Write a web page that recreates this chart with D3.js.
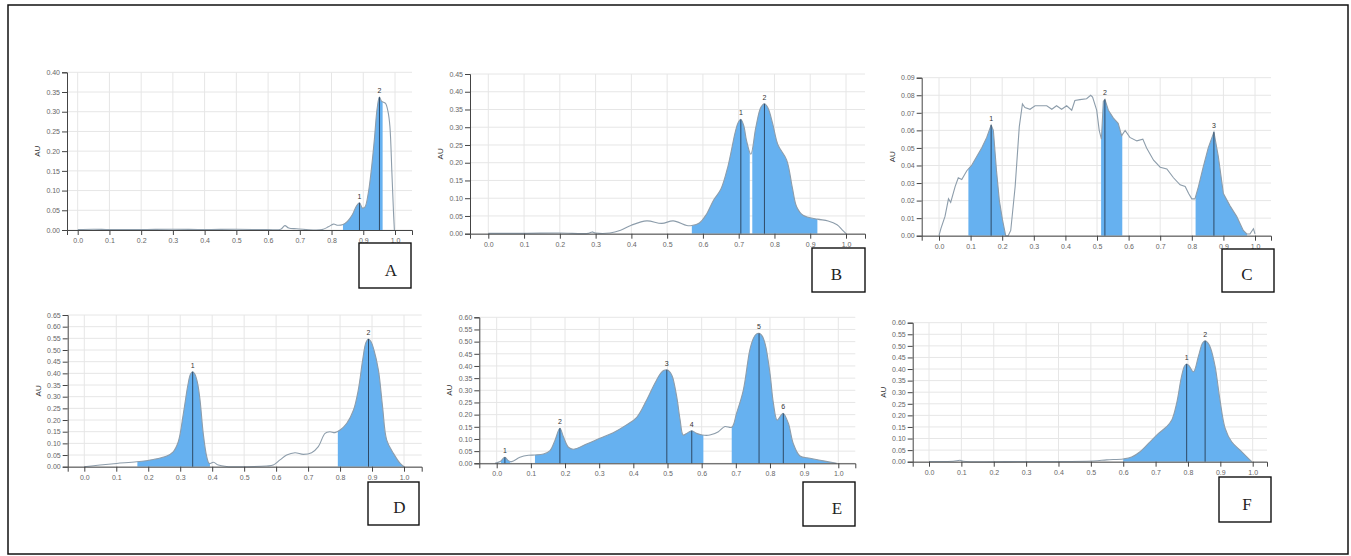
<!DOCTYPE html>
<html>
<head>
<meta charset="utf-8">
<script src="https://cdn.jsdelivr.net/npm/d3@7"></script>
<style>
body { margin: 0; background: #fff; }
svg text { font-family: "Liberation Sans", Arial, sans-serif; }
</style>
</head>
<body>
<div id="canvas"></div>
<script>
var width = 1351,
	height = 556;

// densitometry profiles, [position, AU]
var profileA = [[0,0.001],[0.05,0.002],[0.1,0.001],[0.2,0.001],[0.3,0.002],[0.4,0.001],[0.5,0.002],[0.6,0.001],[0.64,0.002],[0.653,0.011],[0.665,0.005],[0.69,0.003],[0.72,0.001],[0.77,0.001],[0.79,0.008],[0.806,0.015],[0.82,0.012],[0.836,0.014],[0.85,0.022],[0.865,0.038],[0.878,0.06],[0.888,0.069],[0.897,0.056],[0.905,0.058],[0.915,0.09],[0.925,0.15],[0.935,0.23],[0.944,0.31],[0.951,0.337],[0.958,0.326],[0.97,0.321],[0.978,0.3],[0.984,0.262],[0.99,0.15],[0.995,0.05],[0.998,0]];
var profileB = [[0,0.001],[0.1,0.001],[0.2,0.002],[0.28,0.001],[0.29,0.005],[0.3,0.002],[0.34,0.002],[0.37,0.01],[0.4,0.024],[0.443,0.036],[0.485,0.029],[0.517,0.036],[0.555,0.023],[0.569,0.023],[0.59,0.03],[0.61,0.055],[0.63,0.095],[0.65,0.125],[0.67,0.19],[0.69,0.285],[0.698,0.312],[0.706,0.322],[0.714,0.305],[0.722,0.262],[0.734,0.224],[0.748,0.3],[0.762,0.356],[0.772,0.366],[0.782,0.354],[0.795,0.31],[0.81,0.25],[0.834,0.208],[0.85,0.13],[0.862,0.076],[0.88,0.052],[0.92,0.041],[0.95,0.036],[0.975,0.025],[0.99,0.01],[1.0,0]];
var profileC = [[0,0],[0.006,0.004],[0.019,0.011],[0.03,0.021],[0.037,0.019],[0.051,0.028],[0.061,0.033],[0.072,0.032],[0.088,0.037],[0.103,0.04],[0.119,0.045],[0.135,0.05],[0.151,0.056],[0.165,0.063],[0.172,0.06],[0.182,0.037],[0.191,0.02],[0.201,0.009],[0.211,0],[0.219,0],[0.227,0.003],[0.241,0.028],[0.254,0.062],[0.264,0.075],[0.272,0.073],[0.288,0.072],[0.304,0.074],[0.341,0.074],[0.357,0.072],[0.372,0.074],[0.388,0.072],[0.404,0.074],[0.42,0.0715],[0.43,0.077],[0.446,0.0775],[0.467,0.078],[0.48,0.08],[0.486,0.079],[0.499,0.0715],[0.507,0.06],[0.514,0.055],[0.52,0.0765],[0.525,0.0776],[0.536,0.0715],[0.552,0.067],[0.567,0.064],[0.578,0.057],[0.589,0.06],[0.604,0.056],[0.626,0.054],[0.645,0.055],[0.657,0.05],[0.679,0.043],[0.7,0.039],[0.721,0.038],[0.742,0.033],[0.763,0.029],[0.779,0.028],[0.79,0.024],[0.8,0.021],[0.81,0.021],[0.821,0.028],[0.836,0.039],[0.852,0.05],[0.87,0.059],[0.884,0.045],[0.9,0.024],[0.921,0.017],[0.942,0.011],[0.963,0.003],[0.974,0.001],[0.984,0.001],[0.995,0.004],[1.0,0.001]];
var profileD = [[0,0],[0.049,0.007],[0.101,0.014],[0.164,0.021],[0.216,0.031],[0.258,0.046],[0.278,0.064],[0.294,0.107],[0.31,0.229],[0.324,0.35],[0.332,0.396],[0.339,0.407],[0.346,0.396],[0.354,0.36],[0.362,0.286],[0.372,0.143],[0.383,0.043],[0.391,0.014],[0.404,0.019],[0.419,0.007],[0.445,0.001],[0.57,0.003],[0.591,0.007],[0.612,0.029],[0.633,0.05],[0.659,0.06],[0.685,0.053],[0.711,0.06],[0.732,0.086],[0.753,0.143],[0.768,0.15],[0.784,0.146],[0.8,0.157],[0.821,0.186],[0.842,0.243],[0.857,0.329],[0.871,0.46],[0.881,0.532],[0.889,0.547],[0.897,0.535],[0.906,0.5],[0.92,0.414],[0.933,0.257],[0.946,0.114],[0.967,0.057],[0.988,0.014],[1.0,0]];
var profileE = [[-0.005,0],[0.01,0.007],[0.024,0.025],[0.034,0.011],[0.044,0.007],[0.068,0.025],[0.093,0.033],[0.112,0.034],[0.137,0.038],[0.156,0.052],[0.171,0.096],[0.185,0.144],[0.195,0.11],[0.21,0.066],[0.224,0.058],[0.263,0.079],[0.302,0.103],[0.341,0.126],[0.38,0.158],[0.41,0.189],[0.439,0.26],[0.463,0.329],[0.481,0.372],[0.49,0.382],[0.498,0.384],[0.506,0.377],[0.514,0.358],[0.527,0.274],[0.537,0.178],[0.546,0.116],[0.556,0.123],[0.571,0.134],[0.585,0.123],[0.602,0.116],[0.624,0.116],[0.649,0.13],[0.668,0.151],[0.688,0.148],[0.702,0.205],[0.722,0.301],[0.741,0.466],[0.752,0.515],[0.76,0.531],[0.768,0.534],[0.776,0.526],[0.786,0.49],[0.8,0.37],[0.81,0.247],[0.821,0.178],[0.834,0.2],[0.839,0.205],[0.854,0.164],[0.868,0.082],[0.888,0.03],[0.917,0.021],[0.956,0.01],[0.995,0]];
var profileF = [[0,0.001],[0.075,0.002],[0.096,0.006],[0.106,0.002],[0.302,0.001],[0.508,0.003],[0.549,0.008],[0.6,0.012],[0.626,0.02],[0.652,0.043],[0.683,0.086],[0.709,0.122],[0.734,0.151],[0.75,0.18],[0.765,0.252],[0.78,0.367],[0.789,0.412],[0.796,0.422],[0.804,0.413],[0.817,0.388],[0.832,0.453],[0.845,0.512],[0.853,0.522],[0.861,0.514],[0.87,0.49],[0.884,0.41],[0.899,0.266],[0.915,0.144],[0.935,0.086],[0.961,0.05],[0.981,0.022],[0.997,0]];

// integrated bands [from, to]
var regionsA = [[0.836,0.961]];
var regionsB = [[0.569,0.731],[0.738,0.92]];
var regionsC = [[0.093,0.211],[0.513,0.58],[0.812,0.975]];
var regionsD = [[0.166,0.393],[0.793,1.0]];
var regionsE = [[0.012,0.04],[0.112,0.605],[0.688,1.0]];
var regionsF = [[0.6,1.0]];

// peak markers [position, AU]
var peaksA = [[0.888,0.069],[0.951,0.337]];
var peaksB = [[0.706,0.322],[0.772,0.366]];
var peaksC = [[0.165,0.063],[0.525,0.0776],[0.87,0.059]];
var peaksD = [[0.339,0.407],[0.889,0.547]];
var peaksE = [[0.024,0.025],[0.185,0.144],[0.498,0.384],[0.571,0.134],[0.768,0.534],[0.839,0.205]];
var peaksF = [[0.796,0.422],[0.853,0.522]];

var panelNames = ["A","B","C","D","E","F"];
var yMaxes = [0.40,0.45,0.09,0.65,0.60,0.60];
var ySteps = [0.05,0.05,0.01,0.05,0.05,0.05];
var xTickValues = [0.0,0.1,0.2,0.3,0.4,0.5,0.6,0.7,0.8,0.9,1.0];

var profiles = [profileA, profileB, profileC, profileD, profileE, profileF];
var regions = [regionsA, regionsB, regionsC, regionsD, regionsE, regionsF];
var peaks = [peaksA, peaksB, peaksC, peaksD, peaksE, peaksF];

// where each panel sits on the page
var layout = [
	{left: 67, right: 412, x0: 77.7, x1: 395, top: 72.3, bottom: 230, box: [359,243,52,45], dx: 6, smooth: true},
	{left: 470, right: 865, x0: 488.3, x1: 846, top: 74, bottom: 233.7, box: [812,248,53,44], dx: -2, smooth: true},
	{left: 921.7, right: 1271, x0: 939, x1: 1255, top: 77.7, bottom: 235.7, box: [1222,249,52,43], dx: -1, smooth: false},
	{left: 67.7, right: 421.7, x0: 84.3, x1: 404, top: 315, bottom: 466.7, box: [368,482,51,43], dx: 6, smooth: true},
	{left: 479.3, right: 855.3, x0: 496.7, x1: 838.3, top: 317.3, bottom: 463.3, box: [803,482,52,44], dx: 8, smooth: true},
	{left: 912.7, right: 1267, x0: 929, x1: 1252.7, top: 322.7, bottom: 461.7, box: [1219,477,52,45], dx: 2, smooth: true}
];

var svg = d3.select("#canvas")
	.append("svg")
		.attr("width", width)
		.attr("height", height)
		.style("background-color", "#fff");

svg.append("rect")
	.attr("x", 8).attr("y", 5)
	.attr("width", 1340).attr("height", 549)
	.attr("fill", "none")
	.attr("stroke", "#111")
	.attr("stroke-width", 1.5);

var defs = svg.append("defs");

layout.forEach(function(p, i){
	var g = svg.append("g");

	var base = d3.scaleLinear().domain([0, 1]).range([p.x0, p.x1]);
	var x = d3.scaleLinear()
		.domain([base.invert(p.left), base.invert(p.right)])
		.range([p.left, p.right]);
	var y = d3.scaleLinear().domain([0, yMaxes[i]]).range([p.bottom, p.top]);

	var n = Math.round(yMaxes[i] / ySteps[i]);
	var yTickValues = d3.range(n + 1).map(function(k){ return +(k * ySteps[i]).toFixed(2); });

	// grid
	g.selectAll(".vgrid")
		.data(xTickValues)
		.enter()
		.append("line")
			.attr("x1", function(d){ return x(d); })
			.attr("x2", function(d){ return x(d); })
			.attr("y1", p.top)
			.attr("y2", p.bottom)
			.attr("stroke", "#e6e6e6");

	g.selectAll(".hgrid")
		.data(yTickValues)
		.enter()
		.append("line")
			.attr("x1", p.left)
			.attr("x2", p.right)
			.attr("y1", function(d){ return y(d); })
			.attr("y2", function(d){ return y(d); })
			.attr("stroke", "#e6e6e6");

	var curve = p.smooth ? d3.curveCatmullRom.alpha(0.5) : d3.curveLinear;

	var area = d3.area()
		.x(function(d){ return x(d[0]); })
		.y0(y(0))
		.y1(function(d){ return y(Math.max(0, d[1])); })
		.curve(curve);

	var line = d3.line()
		.x(function(d){ return x(d[0]); })
		.y(function(d){ return y(d[1]); })
		.curve(curve);

	// shaded bands, clipped out of the full area
	regions[i].forEach(function(r, j){
		var id = "clip-" + i + "-" + j;
		defs.append("clipPath")
			.attr("id", id)
			.append("rect")
				.attr("x", x(r[0]))
				.attr("y", p.top - 10)
				.attr("width", x(r[1]) - x(r[0]))
				.attr("height", p.bottom - p.top + 10);

		g.append("path")
			.datum(profiles[i])
			.attr("d", area)
			.attr("fill", "#66b1f0")
			.attr("clip-path", "url(#" + id + ")");
	});

	g.append("path")
		.datum(profiles[i])
		.attr("d", line)
		.attr("fill", "none")
		.attr("stroke", "#8d9dab")
		.attr("stroke-width", 1.1);

	// peak markers
	g.selectAll(".peak")
		.data(peaks[i])
		.enter()
		.append("line")
			.attr("x1", function(d){ return x(d[0]); })
			.attr("x2", function(d){ return x(d[0]); })
			.attr("y1", y(0))
			.attr("y2", function(d){ return y(d[1]); })
			.attr("stroke", "#2e4a66")
			.attr("stroke-width", 1);

	g.selectAll(".peakLabel")
		.data(peaks[i])
		.enter()
		.append("text")
			.attr("x", function(d){ return x(d[0]); })
			.attr("y", function(d){ return y(d[1]) - 4; })
			.attr("text-anchor", "middle")
			.attr("font-size", 7)
			.attr("fill", "#333")
			.text(function(d, k){ return k + 1; });

	// axes
	var xAxis = d3.axisBottom(x)
		.tickValues(xTickValues)
		.tickSize(5)
		.tickSizeOuter(5)
		.tickPadding(3)
		.tickFormat(d3.format(".1f"));

	var yAxis = d3.axisLeft(y)
		.tickValues(yTickValues)
		.tickSize(5)
		.tickSizeOuter(5)
		.tickPadding(2)
		.tickFormat(d3.format(".2f"));

	var gx = g.append("g")
		.attr("transform", "translate(0," + p.bottom + ")")
		.call(xAxis);
	var gy = g.append("g")
		.attr("transform", "translate(" + p.left + ",0)")
		.call(yAxis);

	[gx, gy].forEach(function(a){
		a.selectAll("path, line").attr("stroke", "#444");
		a.selectAll("text")
			.attr("font-size", 7)
			.attr("fill", "#666")
			.style("font-family", "'Liberation Sans', Arial, sans-serif");
	});

	g.append("text")
		.attr("transform", "translate(" + (p.left - 27) + "," + ((p.top + p.bottom) / 2) + ") rotate(-90)")
		.attr("text-anchor", "middle")
		.attr("font-size", 8)
		.attr("fill", "#333")
		.text("AU");

	// panel letter box
	var b = p.box;
	g.append("rect")
		.attr("x", b[0]).attr("y", b[1])
		.attr("width", b[2]).attr("height", b[3])
		.attr("fill", "#fff")
		.attr("stroke", "#111")
		.attr("stroke-width", 1.4);

	g.append("text")
		.attr("x", b[0] + b[2] / 2 + p.dx)
		.attr("y", b[1] + b[3] - 12)
		.attr("text-anchor", "middle")
		.attr("font-size", 17)
		.attr("fill", "#222")
		.style("font-family", "'Liberation Serif', 'DejaVu Serif', serif")
		.text(panelNames[i]);
});
</script>
</body>
</html>
